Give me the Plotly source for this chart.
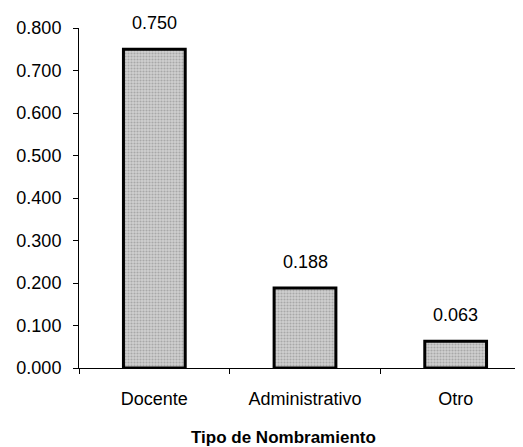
import plotly.graph_objects as go

categories = ["Docente", "Administrativo", "Otro"]
values = [0.750, 0.188, 0.063]
value_labels = ["0.750", "0.188", "0.063"]
y_ticks = [0.0, 0.1, 0.2, 0.3, 0.4, 0.5, 0.6, 0.7, 0.8]
y_tick_labels = ["0.000", "0.100", "0.200", "0.300", "0.400", "0.500", "0.600", "0.700", "0.800"]
x_title = "Tipo de Nombramiento"

fig = go.Figure(
    go.Bar(
        x=categories,
        y=values,
        width=0.41,
        marker=dict(
            color="#c4c4c4",
            line=dict(color="black", width=3),
            pattern=dict(shape=".", fgcolor="#7f7f7f", bgcolor="#d0d0d0", size=3, solidity=0.4),
        ),
    )
)

for cat, val, lab in zip(categories, values, value_labels):
    fig.add_annotation(
        x=cat, y=val, text=lab, showarrow=False,
        yanchor="bottom", yshift=14,
        font=dict(size=18, color="black"),
    )

fig.add_annotation(
    xref="paper", yref="paper", x=0.453, y=0,
    xanchor="center", yanchor="middle", yshift=-69,
    text="<b>" + x_title + "</b>", showarrow=False,
    font=dict(size=17, color="black"),
)

fig.update_layout(
    width=523,
    height=447,
    margin=dict(l=71, r=0, t=20, b=87, autoexpand=False),
    paper_bgcolor="white",
    plot_bgcolor="white",
    font=dict(family="Arial, Liberation Sans, sans-serif", size=18, color="black"),
    showlegend=False,
)
fig.update_xaxes(
    showline=True,
    linecolor="black",
    linewidth=1,
    ticks="outside",
    tickson="boundaries",
    ticklen=5,
    tickcolor="black",
    tickfont=dict(size=18),
    ticklabelstandoff=14,
    showgrid=False,
)
fig.update_yaxes(
    range=[0, 0.8],
    tickvals=y_ticks,
    ticktext=y_tick_labels,
    showline=True,
    linecolor="black",
    linewidth=1,
    ticks="outside",
    ticklen=5,
    tickcolor="black",
    tickfont=dict(size=18),
    ticklabelstandoff=8,
    showgrid=False,
    zeroline=False,
)

fig.write_html("out.html")
